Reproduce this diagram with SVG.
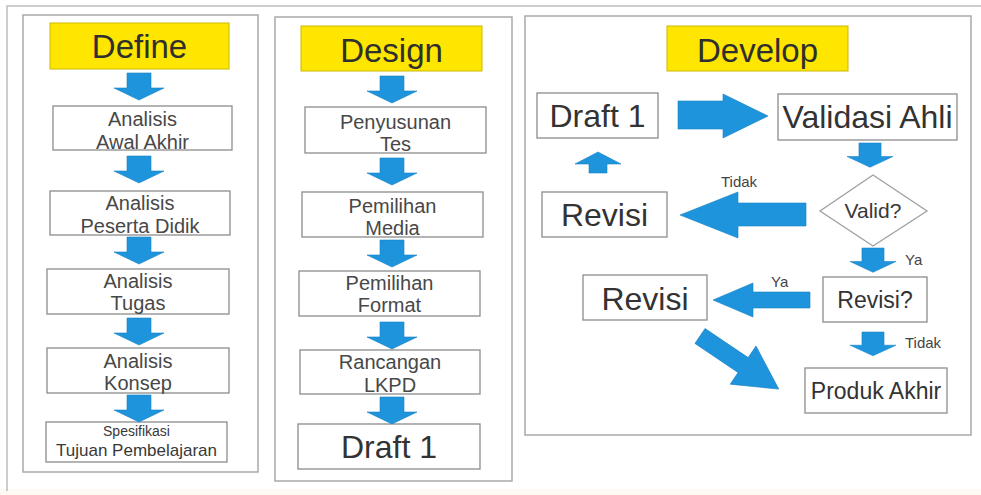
<svg xmlns="http://www.w3.org/2000/svg" width="981" height="495" viewBox="0 0 981 495">
  <style>
    .panel { fill: #ffffff; stroke: #a9a9a9; stroke-width: 1.5; }
    .head { fill: #ffe600; stroke: #cbb800; stroke-width: 1; }
    .box { fill: #ffffff; stroke: #8c8c8c; stroke-width: 1.3; }
    .arrow { fill: #1e94dc; stroke: #1680c4; stroke-width: 0.6; }
    text { font-family: "Liberation Sans", Arial, sans-serif; fill: #383838; text-anchor: middle; }
    .h1 { font-size: 33px; fill: #2f2f2f; }
    .t { font-size: 20px; fill: #484848; }
    .big { font-size: 32px; fill: #333333; }
    .mid { font-size: 23px; fill: #333333; }
    .lbl { font-size: 15px; fill: #444444; text-anchor: start; }
  </style>
  <defs>
    <path id="down" d="M-12,0 H12 V15 H25 L0,27 L-25,15 H-12 Z"/>
  </defs>

  <!-- page background and outer frame -->
  <rect x="0" y="0" width="981" height="495" fill="#ffffff"/>
  <rect x="0" y="489" width="981" height="6" fill="#fefaf3"/>
  <path d="M7,491 V6 H981" fill="none" stroke="#bdbdbd" stroke-width="1.5"/>

  <!-- Define column -->
  <g id="panel-define">
    <rect class="panel" x="23" y="15" width="235" height="457"/>
    <g id="define-title">
      <rect class="head" x="50" y="23" width="179" height="46"/>
      <text class="h1" x="139.5" y="58">Define</text>
    </g>
    <g id="analisis-awal-akhir">
      <rect class="box" x="53" y="106" width="179" height="44"/>
      <text class="t" x="142.5" y="126">Analisis</text>
      <text class="t" x="142.5" y="149">Awal Akhir</text>
    </g>
    <g id="analisis-peserta-didik">
      <rect class="box" x="50" y="191" width="180" height="44"/>
      <text class="t" x="140" y="210">Analisis</text>
      <text class="t" x="140" y="233">Peserta Didik</text>
    </g>
    <g id="analisis-tugas">
      <rect class="box" x="47" y="269" width="182" height="45"/>
      <text class="t" x="138" y="288">Analisis</text>
      <text class="t" x="138" y="310">Tugas</text>
    </g>
    <g id="analisis-konsep">
      <rect class="box" x="47" y="348" width="182" height="45"/>
      <text class="t" x="138" y="368">Analisis</text>
      <text class="t" x="138" y="390">Konsep</text>
    </g>
    <g id="spesifikasi-tujuan">
      <rect class="box" x="46" y="422" width="181" height="40"/>
      <text x="136.5" y="436" font-size="14" fill="#555555">Spesifikasi</text>
      <text x="136.5" y="456" font-size="17" fill="#444444">Tujuan Pembelajaran</text>
    </g>
  </g>

  <!-- Design column -->
  <g id="panel-design">
    <rect class="panel" x="275" y="17" width="237" height="464"/>
    <g id="design-title">
      <rect class="head" x="301" y="26" width="181" height="45"/>
      <text class="h1" x="391.5" y="62">Design</text>
    </g>
    <g id="penyusunan-tes">
      <rect class="box" x="305" y="107" width="181" height="46"/>
      <text class="t" x="395.5" y="129">Penyusunan</text>
      <text class="t" x="395.5" y="151">Tes</text>
    </g>
    <g id="pemilihan-media">
      <rect class="box" x="302" y="192" width="181" height="45"/>
      <text class="t" x="392.5" y="213">Pemilihan</text>
      <text class="t" x="392.5" y="235">Media</text>
    </g>
    <g id="pemilihan-format">
      <rect class="box" x="299" y="271" width="181" height="45"/>
      <text class="t" x="389.5" y="290">Pemilihan</text>
      <text class="t" x="389.5" y="312">Format</text>
    </g>
    <g id="rancangan-lkpd">
      <rect class="box" x="300" y="350" width="180" height="44"/>
      <text class="t" x="390" y="369">Rancangan</text>
      <text class="t" x="390" y="392">LKPD</text>
    </g>
    <g id="design-draft-1">
      <rect class="box" x="298" y="424" width="182" height="45"/>
      <text class="big" x="389" y="458">Draft 1</text>
    </g>
  </g>

  <!-- Develop column -->
  <g id="panel-develop">
    <rect class="panel" x="525" y="16" width="446" height="419"/>
    <g id="develop-title">
      <rect class="head" x="667" y="26" width="181" height="45"/>
      <text class="h1" x="757.5" y="62">Develop</text>
    </g>
    <g id="develop-draft-1">
      <rect class="box" x="537" y="93" width="121" height="45"/>
      <text class="big" x="597.5" y="127" font-size="31">Draft 1</text>
    </g>
    <g id="validasi-ahli">
      <rect class="box" x="778" y="94" width="179" height="46"/>
      <text class="big" x="867.5" y="128" font-size="31">Validasi Ahli</text>
    </g>
    <g id="valid-decision">
      <polygon points="873,175 927,211 873,246 820,211" fill="#ffffff" stroke="#a0a0a0" stroke-width="1.3"/>
      <text x="873" y="218" font-size="21" fill="#333333">Valid?</text>
    </g>
    <g id="revisi-top">
      <rect class="box" x="542" y="192" width="125" height="45"/>
      <text class="big" x="604.5" y="226">Revisi</text>
    </g>
    <g id="revisi-decision">
      <rect class="box" x="823" y="277" width="104" height="45"/>
      <text class="mid" x="875" y="308">Revisi?</text>
    </g>
    <g id="revisi-bottom">
      <rect class="box" x="583" y="275" width="124" height="45"/>
      <text class="big" x="645" y="310">Revisi</text>
    </g>
    <g id="produk-akhir">
      <rect class="box" x="805" y="368" width="142" height="45"/>
      <text class="mid" x="876" y="399">Produk Akhir</text>
    </g>
  </g>

  <!-- connectors -->
  <g id="connectors">
    <!-- Define flow -->
    <use href="#down" class="arrow" x="139" y="73"/>
    <use href="#down" class="arrow" x="139" y="156"/>
    <use href="#down" class="arrow" x="139" y="237"/>
    <use href="#down" class="arrow" x="139" y="318"/>
    <use href="#down" class="arrow" x="139" y="395"/>
    <!-- Design flow -->
    <use href="#down" class="arrow" x="392" y="76"/>
    <use href="#down" class="arrow" x="392" y="158"/>
    <use href="#down" class="arrow" x="392" y="240"/>
    <use href="#down" class="arrow" x="392" y="322"/>
    <use href="#down" class="arrow" x="392" y="397"/>
    <!-- Develop flow -->
    <polygon class="arrow" points="678,101 723,101 723,94 768,116 723,138 723,129 678,129"/>
    <use href="#down" class="arrow" transform="translate(870,143) scale(0.92,0.9)"/>
    <polygon class="arrow" points="806,203 738,203 738,192 680,215 738,238 738,226 806,226"/>
    <text class="lbl" x="721" y="187">Tidak</text>
    <polygon class="arrow" points="598,152 621,164 607,164 607,173 589,173 589,164 575,164"/>
    <use href="#down" class="arrow" transform="translate(873,248) scale(0.92,0.9)"/>
    <text class="lbl" x="905" y="265">Ya</text>
    <polygon class="arrow" points="810,292 753,292 753,283 713,300 753,317 753,308 810,308"/>
    <text class="lbl" x="771" y="287">Ya</text>
    <use href="#down" class="arrow" transform="translate(873,332) scale(0.92,0.88)"/>
    <text class="lbl" x="905" y="348" font-size="14">Tidak</text>
    <polygon class="arrow" transform="translate(700,336) rotate(34)" points="0,-9 52,-9 52,-23 95,0 52,23 52,9 0,9"/>
  </g>
</svg>
